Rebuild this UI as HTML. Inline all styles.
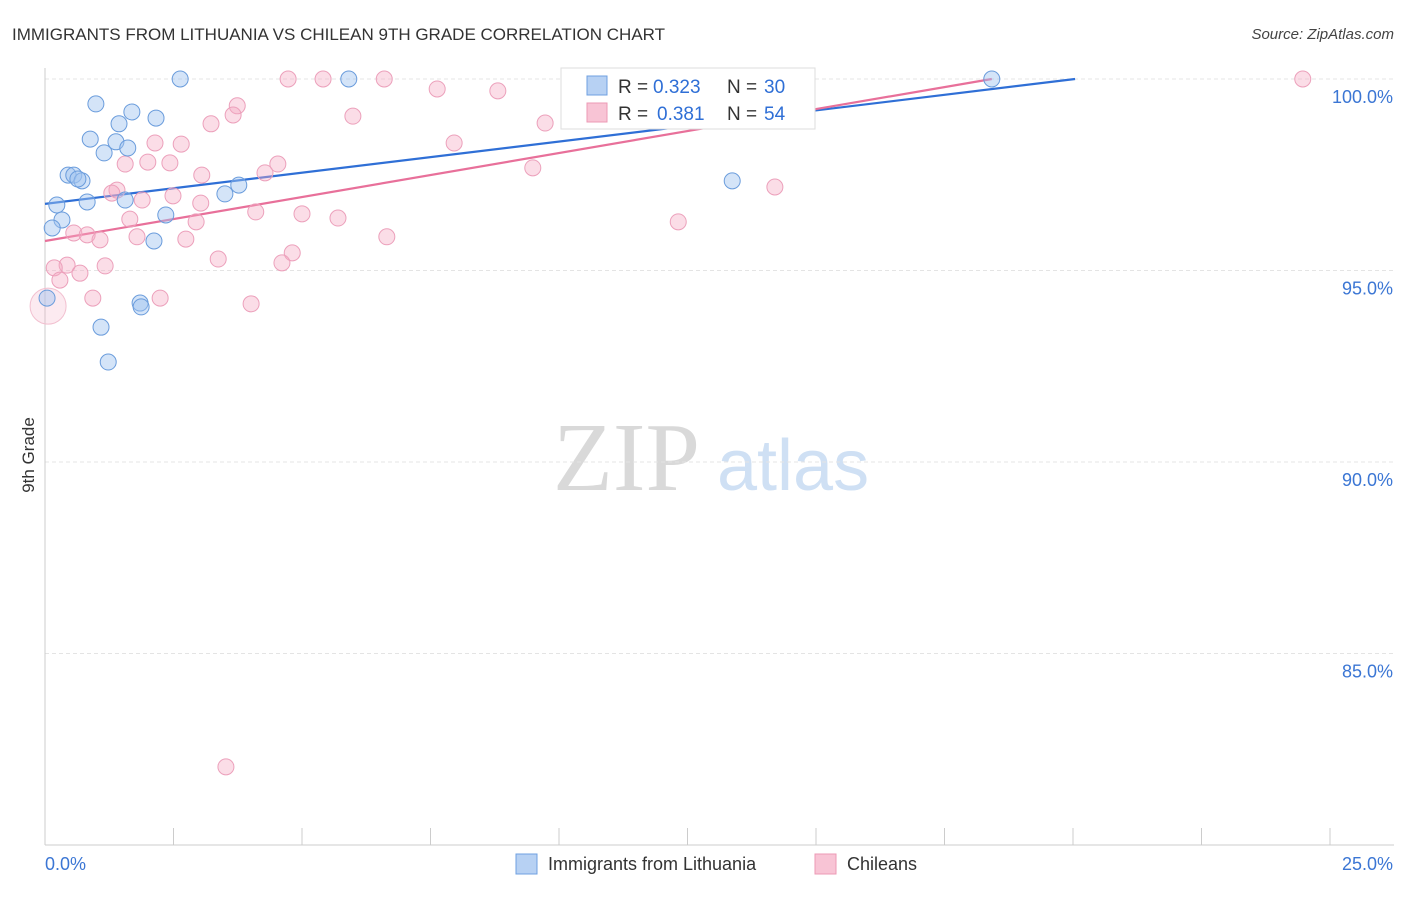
<!DOCTYPE html>
<html><head><meta charset="utf-8"><style>
body{margin:0;background:#fff;width:1406px;height:892px;overflow:hidden;font-family:"Liberation Sans",sans-serif}
</style></head><body>
<svg width="1406" height="892" xmlns="http://www.w3.org/2000/svg">
<text x="12" y="40" font-size="17" fill="#333">IMMIGRANTS FROM LITHUANIA VS CHILEAN 9TH GRADE CORRELATION CHART</text>
<text x="1394" y="39" font-size="15" fill="#444" font-style="italic" text-anchor="end">Source: ZipAtlas.com</text>
<g>
<text x="553" y="490" font-size="98" fill="#d9d9d9" font-family="Liberation Serif,serif">ZIP</text>
<text x="717" y="490" font-size="72" fill="#cfe0f4">atlas</text>
</g>
<g id="grid"></g><g id="axes"></g><g id="lines"></g><g id="pts"></g>
<text transform="translate(34,455) rotate(-90)" font-size="17" fill="#333" text-anchor="middle">9th Grade</text>
<g>
<rect x="561" y="68" width="254" height="61" fill="#fff" stroke="#ddd"/>
<rect x="587" y="76" width="20" height="19" fill="#b7d1f3" stroke="#6fa0e0"/>
<rect x="587" y="103" width="20" height="19" fill="#f8c4d5" stroke="#ec9ab5"/>
<text y="93" font-size="19" fill="#333"><tspan x="618">R =</tspan><tspan x="653" fill="#2f6fd6">0.323</tspan><tspan x="727">N =</tspan><tspan x="764" fill="#2f6fd6">30</tspan></text>
<text y="120" font-size="19" fill="#333"><tspan x="618">R =</tspan><tspan x="657" fill="#2f6fd6">0.381</tspan><tspan x="727">N =</tspan><tspan x="764" fill="#2f6fd6">54</tspan></text>
</g>
<g>
<rect x="516" y="854" width="21" height="20" fill="#b7d1f3" stroke="#6fa0e0"/>
<text x="548" y="870" font-size="18" fill="#333">Immigrants from Lithuania</text>
<rect x="815" y="854" width="21" height="20" fill="#f8c4d5" stroke="#ec9ab5"/>
<text x="847" y="870" font-size="18" fill="#333">Chileans</text>
</g>
</svg>
<script>
const xTicks=[0,2.5,5,7.5,10,12.5,15,17.5,20,22.5,25];
const yTicks=[100,95,90,85];
const yTickLabels=["100.0%","95.0%","90.0%","85.0%"];
const xEndLabels=["0.0%","25.0%"];
const blueX=[2.63,5.91,0.99,1.69,2.16,1.44,0.88,1.38,1.61,1.15,0.45,0.56,0.72,0.64,3.77,3.50,0.23,0.82,1.56,2.35,0.33,0.14,2.12,0.04,1.85,1.87,1.09,1.23,13.37,18.42];
const blueY=[100,100,99.35,99.14,98.98,98.83,98.43,98.36,98.20,98.07,97.49,97.49,97.34,97.39,97.23,97.00,96.71,96.79,96.84,96.45,96.32,96.11,95.77,94.28,94.15,94.05,93.52,92.61,97.34,100];
const pinkX=[4.73,5.41,6.60,7.63,8.81,13.11,14.07,24.47,3.74,3.66,5.99,3.23,9.73,7.96,2.14,2.65,2.00,2.43,1.56,4.53,3.05,4.28,9.49,14.20,1.40,1.30,2.49,1.89,3.03,4.10,5.00,5.70,1.65,2.94,12.32,0.56,0.82,1.07,1.79,2.74,6.65,4.81,3.37,4.61,0.43,1.17,0.18,0.68,0.29,0.93,2.24,4.01,3.52,0.06];
const pinkY=[100,100,100,99.74,99.69,100,100,100,99.30,99.06,99.03,98.83,98.85,98.33,98.33,98.30,97.83,97.81,97.78,97.78,97.49,97.55,97.68,97.18,97.10,97.02,96.95,96.84,96.76,96.53,96.48,96.37,96.34,96.27,96.27,95.98,95.93,95.80,95.88,95.82,95.88,95.46,95.30,95.20,95.14,95.12,95.07,94.93,94.75,94.28,94.28,94.13,82.04,94.07];
const pinkR=[8,8,8,8,8,8,8,8,8,8,8,8,8,8,8,8,8,8,8,8,8,8,8,8,8,8,8,8,8,8,8,8,8,8,8,8,8,8,8,8,8,8,8,8,8,8,8,8,8,8,8,8,8,18];
const blueTrendX=[0,20.04], blueTrendY=[96.74,100];
const pinkTrendX=[0,18.42], pinkTrendY=[95.77,100];
const NS="http://www.w3.org/2000/svg";
const sx=v=>45+v*(1285/25);
const sy=v=>79+(100-v)*38.3;
function mk(t,a,p){const e=document.createElementNS(NS,t);for(const k in a)e.setAttribute(k,a[k]);document.getElementById(p).appendChild(e);return e;}
yTicks.forEach((t,i)=>{
 const g=mk('line',{x1:45,x2:1394,y1:sy(t),y2:sy(t),stroke:'#e4e4e4','stroke-dasharray':'4,3'},'grid');
 
 
 const l=mk('text',{x:1393,y:sy(t)+24,'font-size':18,fill:'#3b76d4','text-anchor':'end'},'axes');
 l.textContent=yTickLabels[i];
 
 
});
const ya=mk('line',{x1:45,x2:45,y1:68,y2:845,stroke:'#ccc'},'axes');


const xa=mk('line',{x1:45,x2:1394,y1:845,y2:845,stroke:'#ccc'},'axes');


xTicks.forEach(t=>{
 const k=mk('line',{x1:sx(t),x2:sx(t),y1:828,y2:845,stroke:'#ccc'},'axes');
 
 
});
const xl0=mk('text',{x:45,y:870,'font-size':18,fill:'#3b76d4'},'axes');xl0.textContent=xEndLabels[0];


const xl1=mk('text',{x:1393,y:870,'font-size':18,fill:'#3b76d4','text-anchor':'end'},'axes');xl1.textContent=xEndLabels[1];


pinkX.forEach((x,i)=>{
 const big=pinkR[i]>10;
 const c=mk('circle',{cx:sx(x),cy:sy(pinkY[i]),r:pinkR[i],fill:big?'rgba(244,170,195,0.25)':'rgba(244,170,195,0.4)',stroke:big?'#f2c0d0':'#eca0bb','stroke-width':1},'pts');
 
 
});
blueX.forEach((x,i)=>{
 const c=mk('circle',{cx:sx(x),cy:sy(blueY[i]),r:8,fill:'rgba(160,195,240,0.45)',stroke:'#6a9cdc','stroke-width':1},'pts');
 
 
});
const bl=mk('line',{x1:sx(blueTrendX[0]),y1:sy(blueTrendY[0]),x2:sx(blueTrendX[1]),y2:sy(blueTrendY[1]),stroke:'#2f6fd6','stroke-width':2.2},'lines');


const pl=mk('line',{x1:sx(pinkTrendX[0]),y1:sy(pinkTrendY[0]),x2:sx(pinkTrendX[1]),y2:sy(pinkTrendY[1]),stroke:'#e8709a','stroke-width':2.2},'lines');


</script>
</body></html>
